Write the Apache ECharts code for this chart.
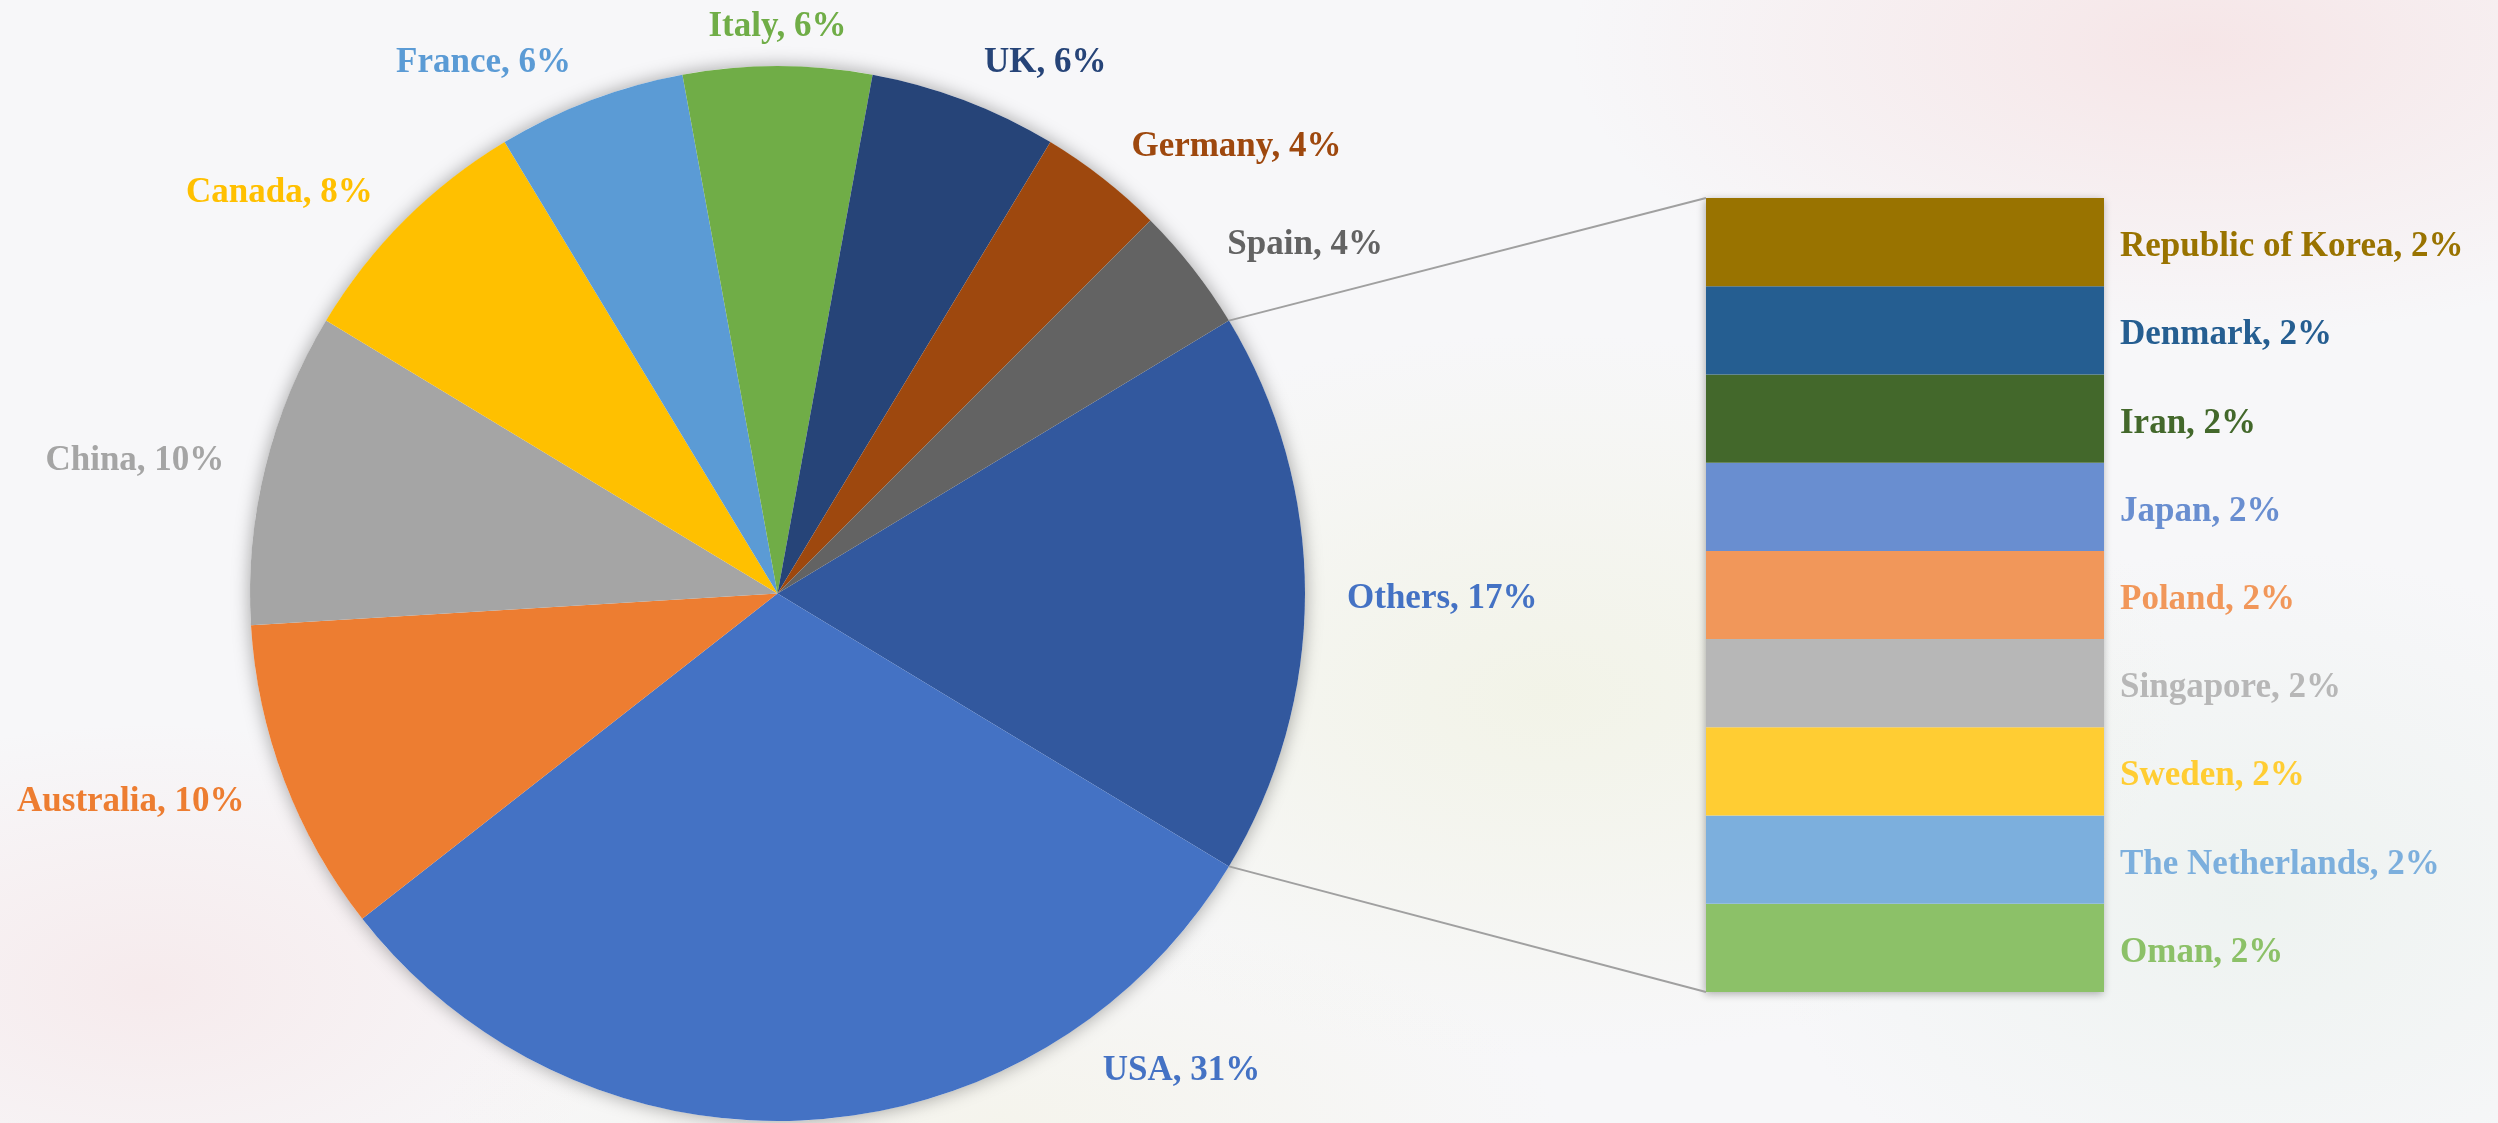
<!DOCTYPE html>
<html>
<head>
<meta charset="utf-8">
<script src="https://cdn.jsdelivr.net/npm/echarts@6/dist/echarts.min.js"></script>
<style>
  html, body { margin: 0; padding: 0; width: 100%; height: 100%; overflow: hidden; }
  body {
    background:
      radial-gradient(ellipse 900px 420px at 88% 4%, rgba(240, 150, 150, 0.18), rgba(240, 150, 150, 0) 70%),
      radial-gradient(ellipse 700px 380px at 6% 88%, rgba(240, 160, 160, 0.14), rgba(240, 160, 160, 0) 70%),
      radial-gradient(ellipse 900px 520px at 62% 62%, rgba(225, 230, 170, 0.22), rgba(225, 230, 170, 0) 70%),
      radial-gradient(ellipse 700px 500px at 90% 80%, rgba(200, 225, 205, 0.2), rgba(200, 225, 205, 0) 70%),
      radial-gradient(ellipse 800px 300px at 40% 100%, rgba(235, 230, 180, 0.18), rgba(235, 230, 180, 0) 70%),
      #f7f7f9;
  }
  #chart { width: 2498px; height: 1123px; }
</style>
</head>
<body>
<div id="chart"></div>
<script>
// main pie, clockwise from the "Others" slice
const pieNames = ['Others', 'USA', 'Australia', 'China', 'Canada', 'France', 'Italy', 'UK', 'Germany', 'Spain'];
const pieValues = [9, 16, 5, 5, 4, 3, 3, 3, 2, 2];
const pieColors = ['#32589E', '#4472C4', '#ED7D31', '#A5A5A5', '#FFC000', '#5B9BD5', '#70AD47', '#264478', '#9E480E', '#636363'];
const pieLabelColors = ['#4472C4', '#4472C4', '#ED7D31', '#A5A5A5', '#FFC000', '#5B9BD5', '#70AD47', '#264478', '#9E480E', '#636363'];

// "Others" broken out in the bar, top to bottom
const barNames = ['Republic of Korea', 'Denmark', 'Iran', 'Japan', 'Poland', 'Singapore', 'Sweden', 'The Netherlands', 'Oman'];
const barValues = [1, 1, 1, 1, 1, 1, 1, 1, 1];
const barColors = ['#997300', '#255E91', '#43682B', '#698ED0', '#F1975A', '#B7B7B7', '#FFCD33', '#7CAFDD', '#8CC168'];

const total = pieValues.reduce((a, b) => a + b, 0);
const barTotal = barValues.reduce((a, b) => a + b, 0);

const CX = 777.5, CY = 593.5, R = 527.5;
const GAP = 35;
const START = 360 * pieValues[0] / total / 2;
const GRID = { left: 1706, top: 198, width: 398, height: 794 };
const FONT = { fontFamily: '"Liberation Serif", "Times New Roman", serif', fontWeight: 'bold', fontSize: 35 };

const pct = v => Math.round(v / total * 100) + '%';

const chart = echarts.init(document.getElementById('chart'));
const H = chart.getHeight();

function clamp(v) { return Math.max(-1, Math.min(1, v)); }

// excel-like "outside end" placement along a ray just outside the circle
function placeLabel(deg, w, h) {
    const t = deg * Math.PI / 180;
    const c = Math.cos(t), s = Math.sin(t);
    const ax = CX + (R + GAP) * c;
    const ay = CY - (R + GAP) * s;
    const sx = clamp(c * 3);
    return { x: ax + sx * (w / 2 + 7), y: ay - s * h * 0.3 + 5 };
}

function pieLabelLayout(params) {
    const i = params.dataIndex;
    let cum = 0;
    for (let k = 0; k < i; k++) cum += pieValues[k];
    const a0 = START - 360 * cum / total;
    const a1 = a0 - 360 * pieValues[i] / total;
    let a = (a0 + a1) / 2;
    const w = params.labelRect.width, h = params.labelRect.height;
    let p = placeLabel(a, w, h);
    let steps = 0;
    while (p.y + h / 2 > H - 34 && steps < 300) {
        a += Math.cos(a * Math.PI / 180) > 0 ? 0.5 : -0.5;
        p = placeLabel(a, w, h);
        steps++;
    }
    if (p.y - h / 2 < 9) p.y = 9 + h / 2;
    return { x: p.x, y: p.y, align: 'center', verticalAlign: 'middle' };
}

const barSeries = [];
for (let i = barNames.length - 1; i >= 0; i--) {
    barSeries.push({
        name: barNames[i],
        type: 'bar',
        stack: 'others',
        barWidth: '100%',
        barGap: '-100%',
        silent: true,
        itemStyle: { color: barColors[i] },
        label: {
            show: true,
            position: 'right',
            distance: 16,
            offset: [0, 5],
            color: barColors[i],
            ...FONT,
            formatter: p => barNames[i] + ', ' + pct(p.value)
        },
        data: [barValues[i]]
    });
}

const option = {
    animation: false,
    grid: { left: GRID.left, top: GRID.top, width: GRID.width, height: GRID.height },
    xAxis: { type: 'category', data: ['Others'], show: false },
    yAxis: { type: 'value', min: 0, max: barTotal, show: false },
    series: [
        {
            // soft shadow behind the whole pie
            type: 'pie',
            center: [CX, CY],
            radius: R,
            silent: true,
            label: { show: false },
            labelLine: { show: false },
            itemStyle: { color: '#ffffff', shadowBlur: 18, shadowColor: 'rgba(0,0,0,0.35)' },
            data: [{ name: '', value: total }]
        },
        {
            type: 'pie',
            center: [CX, CY],
            radius: R,
            startAngle: START,
            clockwise: true,
            silent: true,
            avoidLabelOverlap: false,
            label: {
                show: true,
                position: 'outside',
                ...FONT,
                formatter: p => p.name + ', ' + pct(p.value)
            },
            labelLine: { show: false },
            labelLayout: pieLabelLayout,
            data: pieNames.map((n, i) => ({
                name: n,
                value: pieValues[i],
                itemStyle: { color: pieColors[i] },
                label: { color: pieLabelColors[i] }
            }))
        },
        {
            // shadow behind the bar
            type: 'bar',
            barWidth: '100%',
            barGap: '-100%',
            silent: true,
            itemStyle: { color: '#ffffff', shadowBlur: 8, shadowColor: 'rgba(0,0,0,0.3)', shadowOffsetX: -1, shadowOffsetY: 2 },
            data: [barTotal]
        },
        ...barSeries
    ]
};

chart.setOption(option);

// connector lines from the "Others" slice edges to the bar corners
const edgeDy = R * Math.sin(START * Math.PI / 180);
const edgeX = CX + R * Math.cos(START * Math.PI / 180);
const barTopPt = chart.convertToPixel({ xAxisIndex: 0, yAxisIndex: 0 }, ['Others', barTotal]);
const barBotPt = chart.convertToPixel({ xAxisIndex: 0, yAxisIndex: 0 }, ['Others', 0]);
chart.setOption({
    graphic: [
        { type: 'line', silent: true, z: 10, shape: { x1: edgeX, y1: CY - edgeDy, x2: GRID.left, y2: barTopPt[1] }, style: { stroke: '#A0A0A0', lineWidth: 2 } },
        { type: 'line', silent: true, z: 10, shape: { x1: edgeX, y1: CY + edgeDy, x2: GRID.left, y2: barBotPt[1] }, style: { stroke: '#A0A0A0', lineWidth: 2 } }
    ]
});
</script>
</body>
</html>
